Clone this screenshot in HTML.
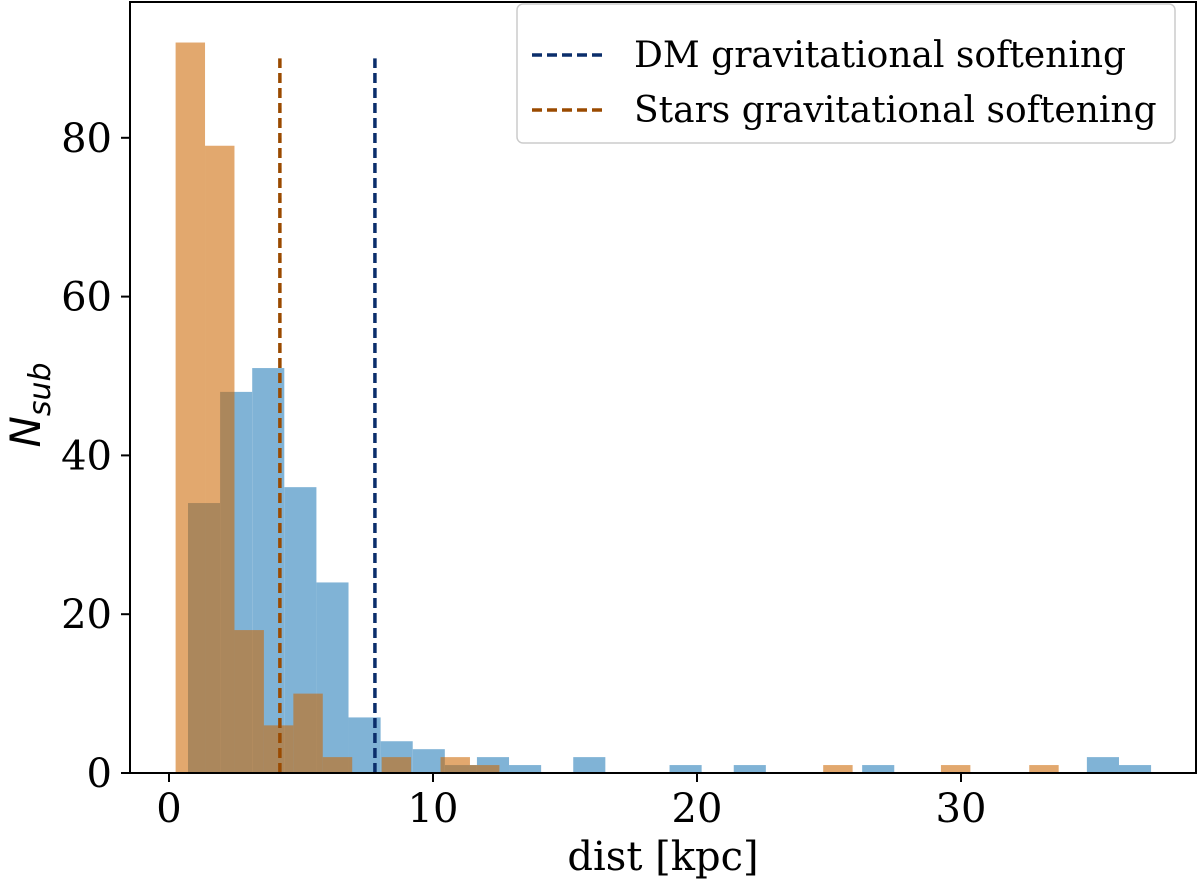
<!DOCTYPE html>
<html><head><meta charset="utf-8"><style>
body{margin:0;background:#fff;}
svg text{font-family:"DejaVu Serif","Liberation Serif",serif;}
</style></head><body>
<svg id="chart" width="1200" height="891" viewBox="0 0 1200 891" xmlns="http://www.w3.org/2000/svg">
<g id="bars"></g>
<g id="lines"></g>
<rect x="130" y="2" width="1066" height="771" fill="none" stroke="#000" stroke-width="2"/>
<g id="xticks"></g>
<g id="yticks"></g>
<text x="663" y="870" font-size="40" text-anchor="middle">dist [kpc]</text>
<text transform="translate(40,405) rotate(-90)" font-size="42" text-anchor="middle" style="font-family:'DejaVu Sans','Liberation Sans',sans-serif;font-style:italic">N<tspan font-size="30" dy="10">sub</tspan></text>
<g>
<rect x="517" y="4" width="658" height="139" rx="6" fill="#fff" fill-opacity="0.8" stroke="#ccc" stroke-width="1.5"/>
<line x1="532" y1="55" x2="602" y2="55" stroke="#0b2e6b" stroke-width="3.5" stroke-dasharray="10,5"/>
<text x="634" y="67" font-size="36">DM gravitational softening</text>
<line x1="532" y1="110" x2="602" y2="110" stroke="#9a4a00" stroke-width="3.5" stroke-dasharray="10,5"/>
<text x="634" y="122" font-size="36">Stars gravitational softening</text>
</g>
</svg>
<script>
const blueCounts=[34,48,51,36,24,7,4,3,1,2,1,0,2,0,0,1,0,1,0,0,0,1,0,0,0,0,0,0,2,1];
const orangeCounts=[92,79,18,6,10,2,0,2,0,2,1,0,0,0,0,0,0,0,0,0,0,0,1,0,0,0,1,0,0,1];
const blueRange=[0.72,37.2];
const orangeRange=[0.25,33.7];
const softening=[7.8,4.2];
const softeningTop=90;
const xTickVals=[0,10,20,30];
const yTickVals=[0,20,40,60,80];
const NS='http://www.w3.org/2000/svg';
const X=v=>169+v*26.4;
const Y=v=>773-v*7.94;
function mk(tag,attrs,parent){const e=document.createElementNS(NS,tag);for(const k in attrs)e.setAttribute(k,attrs[k]);parent.appendChild(e);return e;}
const bars=document.getElementById('bars');
function hist(counts,range,fill,name){
  const w=(range[1]-range[0])/counts.length;
  counts.forEach((c,i)=>{ if(!c)return;
    const x0=X(range[0]+i*w),x1=X(range[0]+(i+1)*w);
    const r=mk('rect',{x:x0,y:Y(c),width:x1-x0,height:Y(0)-Y(c),fill:fill},bars);
    
    
  });
}
hist(blueCounts,blueRange,'#80b3d6','dm');
hist(orangeCounts,orangeRange,'rgba(204,102,0,0.57)','stars');
const lines=document.getElementById('lines');
const cols=['#0b2e6b','#9a4a00'];
softening.forEach((s,i)=>{
  const l=mk('line',{x1:X(s),x2:X(s),y1:Y(0),y2:Y(softeningTop),stroke:cols[i],'stroke-width':3.5,'stroke-dasharray':'10,5'},lines);
  
  
});
const xt=document.getElementById('xticks');
xTickVals.forEach(v=>{
  const t=mk('line',{x1:X(v),x2:X(v),y1:773,y2:782,stroke:'#000','stroke-width':2},xt);
  
  
  const tx=mk('text',{x:X(v),y:822,'font-size':40,'text-anchor':'middle'},xt);tx.textContent=v;
  
  
});
const yt=document.getElementById('yticks');
yTickVals.forEach(v=>{
  const t=mk('line',{x1:121,x2:130,y1:Y(v),y2:Y(v),stroke:'#000','stroke-width':2},yt);
  
  
  const tx=mk('text',{x:112,y:Y(v)+14,'font-size':40,'text-anchor':'end'},yt);tx.textContent=v;
  
  
});
</script>
</body></html>
